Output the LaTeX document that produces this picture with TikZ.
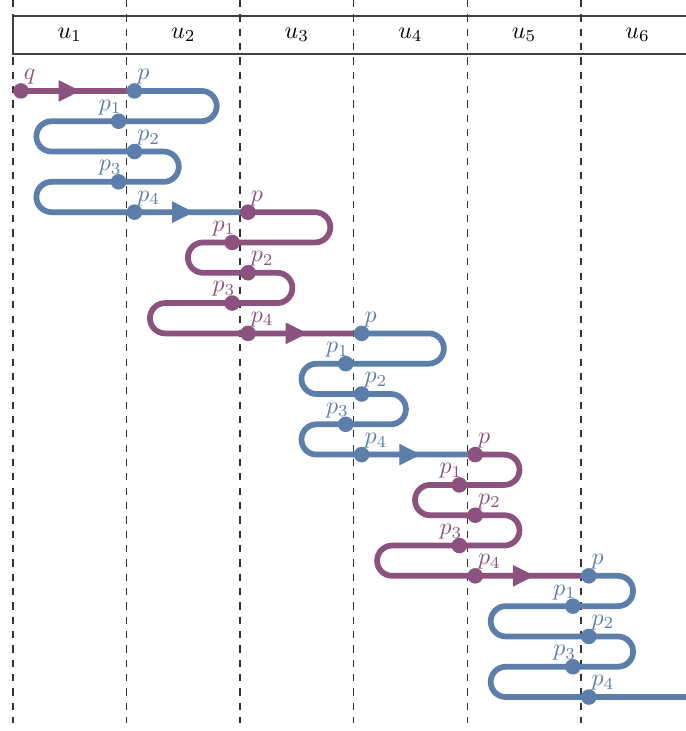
\documentclass[tikz,border=0pt]{standalone}
\usepackage{amsmath, amssymb}
\usepackage{tikz}
\usetikzlibrary{arrows.meta, decorations.markings}

\definecolor{railblue}{RGB}{91,126,170}
\definecolor{railpurple}{RGB}{139,82,127}

\begin{document}
\begin{tikzpicture}[x=1.67cm, y=-0.4456cm,
        rail/.style={line width=2.4pt, rounded corners=0.2228cm},
        midarrow/.style={postaction={decorate}, decoration={markings,
            mark=at position 0.56 with {\arrow{Triangle[length=9pt, width=9pt]}}}},
        dot/.style={circle, fill, inner sep=0pt, minimum size=6.5pt},
        lblright/.style={anchor=south west, inner sep=1pt, yshift=1.5pt},
        lblleft/.style={anchor=south east, inner sep=1pt, xshift=2.5pt, yshift=1.5pt},
        colline/.style={dashed, black!80, line width=0.6pt},
        boxline/.style={black!75, line width=0.7pt}]
        \clip (-0.114,-3) rectangle (5.924,21.12);

        \foreach \x in {0,...,5}
            \draw[colline] (\x,-3) -- (\x,20.85);
        \draw[boxline] (6,-2.475) -| (0,-1.22) -- (6,-1.22);
        \foreach \i in {1,...,6}
            \node (u\i) at (\i-0.5,-1.85) {$u_{\i}$};

        \foreach \c in {1,...,5}
            \coordinate (s\c) at (\c,{4*(\c-1)});
        \coordinate (s6) at (6,20);

        \coordinate (q) at (0.07,0);
        \draw[rail, railpurple] (q) -- (s1);
        \path[midarrow, railpurple] (q) -- (s1);
        \node[dot, railpurple] (qdot) at (q) {};
        \node[lblright, railpurple] (qlbl) at (q) {$q$};

        \foreach \c/\col/\ea/\eb/\ec/\ed in {1/railblue/0.794/0.794/0.46/0.794,
                2/railpurple/0.794/0.46/0.46/0.794, 3/railblue/0.794/0.46/0.46/0.46,
                4/railpurple/0.46/0.46/0.46/0.794, 5/railblue/0.46/0.794/0.46/0.794}{
            \pgfmathtruncatemacro\r{4*(\c-1)}
            \pgfmathtruncatemacro\n{\c+1}
            \coordinate (a\c-0) at (\c+0.07,\r);
            \coordinate (a\c-1) at (\c-0.07,\r+1);
            \coordinate (a\c-2) at (\c+0.07,\r+2);
            \coordinate (a\c-3) at (\c-0.07,\r+3);
            \coordinate (a\c-4) at (\c+0.07,\r+4);
            \draw[rail, \col] (s\c) -- (\c+\ea,\r) -- (\c+\ea,\r+1) -- (\c-\eb,\r+1)
                -- (\c-\eb,\r+2) -- (\c+\ec,\r+2) -- (\c+\ec,\r+3) -- (\c-\ed,\r+3)
                -- (\c-\ed,\r+4) -- (s\n);
            \ifnum\c<5
                \path[midarrow, \col] (a\c-4) -- (s\n);
            \fi
            \foreach \k in {0,...,4}
                \node[dot, \col] (p\c-\k) at (a\c-\k) {};
            \node[lblright, \col] (l\c-0) at (a\c-0) {$p$};
            \node[lblleft, \col] (l\c-1) at (a\c-1) {$p_1$};
            \node[lblright, \col] (l\c-2) at (a\c-2) {$p_2$};
            \node[lblleft, \col] (l\c-3) at (a\c-3) {$p_3$};
            \node[lblright, \col] (l\c-4) at (a\c-4) {$p_4$};
        }
    \end{tikzpicture}
\end{document}
